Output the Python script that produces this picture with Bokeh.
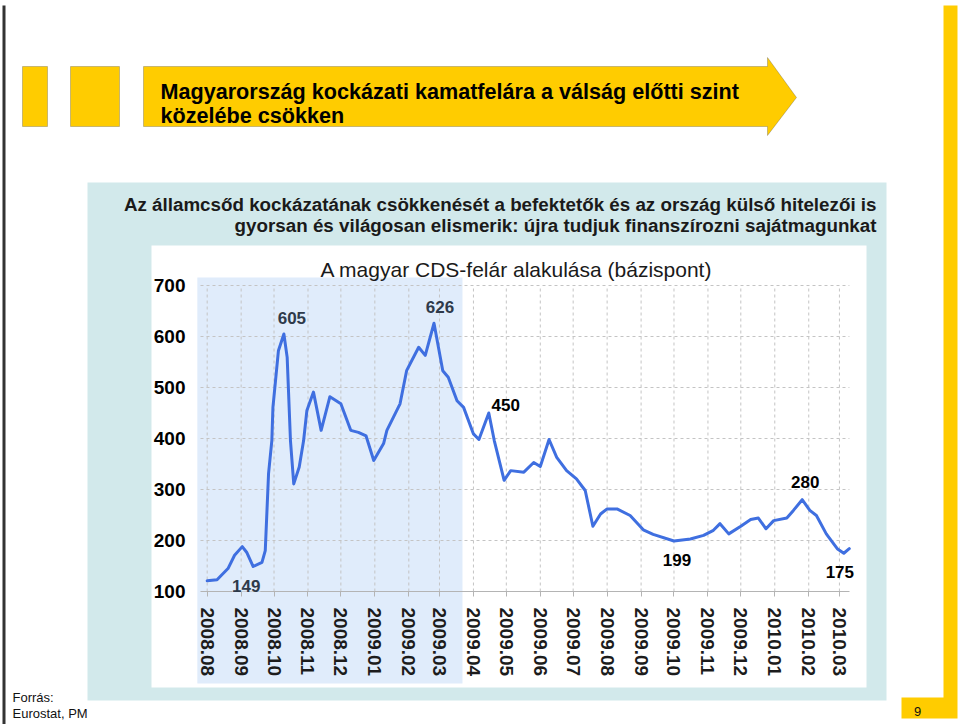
import pandas as pd
from bokeh.plotting import figure
from bokeh.models import (Range1d, FixedTicker, BoxAnnotation, PolyAnnotation, Label,
                          LinearAxis)
from bokeh.embed import file_html
from bokeh.resources import INLINE

# ---------------- data ----------------
dates = ["2008-08-01", "2008-08-10", "2008-08-20", "2008-08-26", "2008-09-02", "2008-09-06",
         "2008-09-12", "2008-09-20", "2008-09-23", "2008-09-26", "2008-09-29", "2008-09-30",
         "2008-10-05", "2008-10-10", "2008-10-13", "2008-10-16", "2008-10-19", "2008-10-24",
         "2008-10-28", "2008-10-31", "2008-11-06", "2008-11-13", "2008-11-21", "2008-12-01",
         "2008-12-10", "2008-12-17", "2008-12-24", "2008-12-31", "2009-01-09", "2009-01-12",
         "2009-01-18", "2009-01-24", "2009-01-30", "2009-02-10", "2009-02-16", "2009-02-24",
         "2009-03-04", "2009-03-09", "2009-03-17", "2009-03-23", "2009-04-01", "2009-04-06",
         "2009-04-15", "2009-04-20", "2009-04-29", "2009-05-05", "2009-05-17", "2009-05-26",
         "2009-06-01", "2009-06-09", "2009-06-16", "2009-06-25", "2009-07-04", "2009-07-12",
         "2009-07-19", "2009-07-26", "2009-08-01", "2009-08-10", "2009-08-22", "2009-09-03",
         "2009-09-12", "2009-10-01", "2009-10-16", "2009-10-28", "2009-11-06", "2009-11-12",
         "2009-11-20", "2009-12-01", "2009-12-10", "2009-12-17", "2009-12-24", "2009-12-31",
         "2010-01-12", "2010-01-18", "2010-01-26", "2010-02-02", "2010-02-08", "2010-02-17",
         "2010-02-27", "2010-03-05", "2010-03-10"]
cds_bp = [121, 123, 145, 171, 188, 177, 149, 157, 180, 331,
          396, 461, 572, 605, 559, 396, 311, 344, 396, 455,
          491, 416, 482, 468, 416, 412, 405, 357, 390, 416,
          442, 468, 533, 579, 563, 626, 533, 520, 474, 461,
          409, 398, 450, 396, 318, 337, 334, 353, 345, 398,
          363, 337, 321, 298, 228, 252, 262, 262, 249, 221,
          212, 199, 203, 210, 220, 233, 213, 228, 241, 244,
          223, 239, 244, 259, 280, 259, 249, 213, 184, 175,
          184]

month_ticks = ["2008-08-01", "2008-09-01", "2008-10-01", "2008-11-01", "2008-12-01",
               "2009-01-01", "2009-02-01", "2009-03-01", "2009-04-01", "2009-05-01",
               "2009-06-01", "2009-07-01", "2009-08-01", "2009-09-01", "2009-10-01",
               "2009-11-01", "2009-12-01", "2010-01-01", "2010-02-01", "2010-03-01"]
month_labels = ["2008.08", "2008.09", "2008.10", "2008.11", "2008.12",
                "2009.01", "2009.02", "2009.03", "2009.04", "2009.05",
                "2009.06", "2009.07", "2009.08", "2009.09", "2009.10",
                "2009.11", "2009.12", "2010.01", "2010.02", "2010.03"]
y_ticks = [100, 200, 300, 400, 500, 600, 700]

# annotated points (value labels)
labelled_dates = ["2008-10-10", "2008-09-12", "2009-02-24", "2009-04-15",
                  "2010-01-26", "2009-10-01", "2010-03-05"]
# shaded (crisis) period
shade_period = ["2008-07-23", "2009-03-22"]

slide_title = ["Magyarország kockázati kamatfelára a válság előtti szint",
               "közelébe csökken"]
subtitle = ["Az államcsőd kockázatának csökkenését a befektetők és az ország külső hitelezői is",
            "gyorsan és világosan elismerik: újra tudjuk finanszírozni sajátmagunkat"]
chart_title = "A magyar CDS-felár alakulása (bázispont)"
source_lines = ["Forrás:", "Eurostat, PM"]
page_no = "9"

# ---------------- conversion ----------------
origin = pd.Timestamp("2008-08-01")
def day(d):
    return int((pd.Timestamp(d) - origin).days)

x = [day(d) for d in dates]
tick_days = [day(d) for d in month_ticks]
value_at = dict(zip(dates, cds_bp))

FONT = "Liberation Sans"
YELLOW = "#ffcc00"
TEAL = "#d2e9eb"
SHADE = "#e0ecfb"
LINE = "#3f6fe0"
GRID = "#c4c4c4"

# data window of the chart and its place on the page (pixels)
X0, X1 = -6.1, 586.1          # days shown in the plot area
Y0, Y1 = 100, 700             # bp shown in the plot area
W, H = 960, 724
PX_L, PX_R, PX_T, PX_B = 200.0, 848.9, 285.0, 591.0
sx = (X1 - X0) / (PX_R - PX_L)
sy = (Y1 - Y0) / (PX_B - PX_T)

p = figure(width=W, height=H, output_backend="svg", toolbar_location=None,
           x_range=Range1d(X0 - PX_L * sx, X1 + (W - PX_R) * sx),
           y_range=Range1d(Y0 - (H - PX_B) * sy, Y1 + PX_T * sy),
           x_axis_type=None, y_axis_type=None, min_border=0,
           background_fill_color="white", border_fill_color="white", outline_line_color=None)
p.title.visible = False
p.grid.visible = False

# ---------------- decorations (canvas units) ----------------
def poly(xs, ys, color, line_color=None):
    p.add_layout(PolyAnnotation(xs=xs, ys=ys, xs_units="canvas", ys_units="canvas",
                                fill_color=color, fill_alpha=1,
                                line_color=line_color, line_width=1, level="image"))

def cbox(l, t, r, b, color, line_color=None):
    poly([l, r, r, l], [t, t, b, b], color, line_color)

cbox(87, 182, 886, 700, TEAL)          # teal panel
cbox(151, 245, 866, 687, "white")      # chart area
p.add_layout(BoxAnnotation(left=day(shade_period[0]), right=day(shade_period[1]),
                           top=277, bottom=683, top_units="canvas", bottom_units="canvas",
                           fill_color=SHADE, fill_alpha=1, line_color=None, level="image"))

cbox(2, 5, 5, 724, "#333333")          # left rule
poly([943, 957, 957, 901, 901, 943], [5, 5, 718, 718, 697, 697], YELLOW)

cbox(22, 66, 47, 126, YELLOW, "#4a4a4a")
cbox(70, 66, 119, 126, YELLOW, "#4a4a4a")
poly([143, 767, 767, 796, 767, 767, 143], [66, 66, 57, 97, 135, 126, 126], YELLOW, "#4a4a4a")

def clabel(x, y, text, size, style="normal", align="left", color="#111111", baseline="alphabetic"):
    p.add_layout(Label(x=x, y=y, x_units="canvas", y_units="canvas", text=text,
                       text_font=FONT, text_font_size=size, text_font_style=style,
                       text_align=align, text_baseline=baseline, text_color=color,
                       level="overlay"))

clabel(160, 91, slide_title[0], "21.6px", "bold", color="#000000")
clabel(160, 115, slide_title[1], "21.6px", "bold", color="#000000")
clabel(876, 204, subtitle[0], "18.8px", "bold", align="right", color="#1a1a1a")
clabel(876, 225, subtitle[1], "18.8px", "bold", align="right", color="#1a1a1a")
clabel(516, 269, chart_title, "21px", "normal", align="center", color="#1a1a1a")
clabel(12, 697, source_lines[0], "13px", "normal", color="#111111")
clabel(12, 713, source_lines[1], "13px", "normal", color="#111111")
clabel(917, 711, page_no, "13px", "normal", align="center", color="#111111", baseline="middle")

# ---------------- chart ----------------
# grid lines
p.segment(x0=tick_days, x1=tick_days, y0=[Y0] * len(tick_days), y1=[Y1] * len(tick_days),
          line_color=GRID, line_width=1, line_dash="3 3")
hy = y_ticks[1:]
p.segment(x0=[X0] * len(hy), x1=[X1] * len(hy), y0=hy, y1=hy,
          line_color=GRID, line_width=1, line_dash="3 3")

p.line(x, cds_bp, line_color=LINE, line_width=3, line_join="round", line_cap="round")

yaxis = LinearAxis(ticker=FixedTicker(ticks=y_ticks), fixed_location=X0, bounds=(Y0, Y1),
                   axis_line_color=None, major_tick_line_color=None, minor_tick_line_color=None,
                   major_label_text_font=FONT, major_label_text_font_size="19px",
                   major_label_text_font_style="bold", major_label_text_color="#000000",
                   major_label_standoff=9)
p.add_layout(yaxis, "left")

xaxis = LinearAxis(ticker=FixedTicker(ticks=tick_days), fixed_location=Y0, bounds=(X0, X1),
                   major_label_overrides={d: lab for d, lab in zip(tick_days, month_labels)},
                   major_label_orientation="vertical",
                   axis_line_color="#b4b4b4", major_tick_line_color="#b4b4b4",
                   major_tick_in=0, major_tick_out=5, minor_tick_line_color=None,
                   major_label_text_font=FONT, major_label_text_font_size="19px",
                   major_label_text_font_style="bold", major_label_text_color="#1c1c1c",
                   major_label_standoff=11)
p.add_layout(xaxis, "below")

# value labels (offsets in px: right, up)
label_offsets = [(8, 16), (-7, -19), (6, 16), (17, 8), (3, 18), (3, -19), (-4, -19)]
label_colors = ["#2e3a4a", "#2e3a4a", "#2e3a4a", "#000000", "#000000", "#000000", "#000000"]
for d, (dx, dy), col in zip(labelled_dates, label_offsets, label_colors):
    v = value_at[d]
    p.add_layout(Label(x=day(d), y=v, text=str(v), x_offset=dx, y_offset=dy,
                       text_font=FONT, text_font_size="17px", text_font_style="bold",
                       text_color=col, text_align="center", text_baseline="middle",
                       background_fill_color=SHADE if d == "2008-09-12" else None,
                       level="overlay"))

open("out.html", "w").write(file_html(p, INLINE))
